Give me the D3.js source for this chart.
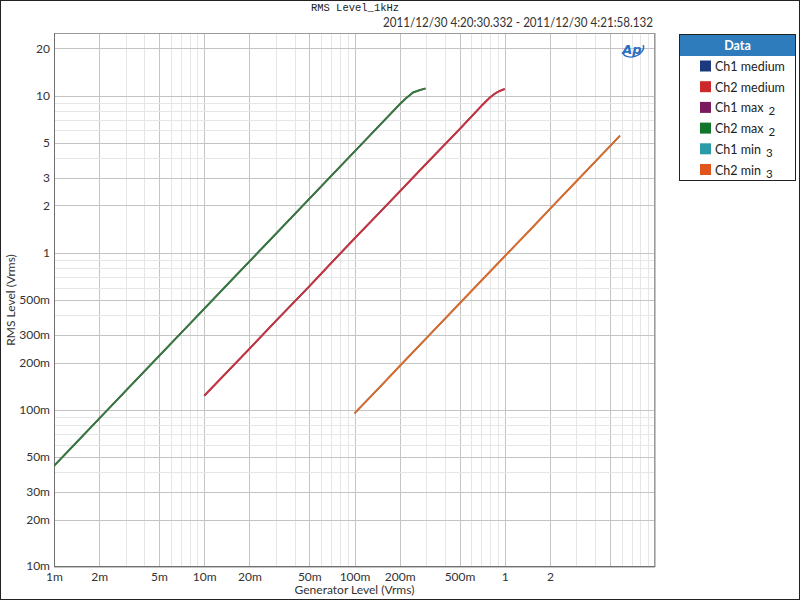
<!DOCTYPE html>
<html><head><meta charset="utf-8">
<script src="https://cdn.jsdelivr.net/npm/d3@7"></script>
<style>body{margin:0;background:#fff}svg{display:block}</style>
</head><body>
<svg id="c" width="800" height="600"></svg>
<script>
// ---- data ----
const titleText = "RMS Level_1kHz";
const subtitleText = "2011/12/30 4:20:30.332 - 2011/12/30 4:21:58.132";
const seriesNames = ["Ch1 medium","Ch2 medium","Ch1 max","Ch2 max","Ch1 min","Ch2 min"];
const seriesSubs  = ["","","2","2","3","3"];
const legendColors = ["#1b3a7e","#cc2a2a","#7a1a5c","#12752a","#2a9aa8","#e0561c"];
const lineColors   = ["#1b3a7e","#c8343e","#7a1a5c","#357a40","#2a9aa8","#dd6a2c"];

const maxGen = [0.001,0.0015,0.002,0.003,0.005,0.007,0.01,0.015,0.02,0.03,0.05,0.07,0.1,0.15,0.2,0.22,0.245,0.27,0.297];
const maxOut = [0.044,0.066,0.088,0.132,0.22,0.308,0.44,0.66,0.88,1.32,2.2,3.08,4.4,6.6,8.8,9.6,10.45,10.8,11.1];
const medGen = [0.01,0.015,0.02,0.03,0.05,0.07,0.1,0.15,0.2,0.3,0.5,0.7,0.8,0.85,0.9,0.95,1.0];
const medOut = [0.123,0.184,0.245,0.368,0.61,0.86,1.23,1.84,2.45,3.68,6.1,8.6,9.75,10.2,10.55,10.8,11.0];
const minGen = [0.1,0.15,0.2,0.3,0.5,0.7,1,1.5,2,3,4,5,5.85];
const minOut = [0.095,0.142,0.19,0.285,0.475,0.665,0.95,1.42,1.9,2.85,3.8,4.75,5.56];

const seriesGen = [medGen, medGen, maxGen, maxGen, minGen, minGen];
const seriesOut = [medOut, medOut, maxOut, maxOut, minOut, minOut];

const xTickVals = [0.001,0.002,0.005,0.01,0.02,0.05,0.1,0.2,0.5,1,2];
const xTickLabels = ["1m","2m","5m","10m","20m","50m","100m","200m","500m","1","2"];
const yTickVals = [0.01,0.02,0.03,0.05,0.1,0.2,0.3,0.5,1,2,3,5,10,20];
const yTickLabels = ["10m","20m","30m","50m","100m","200m","300m","500m","1","2","3","5","10","20"];
const xDomain = [0.001, 10];
const yDomain = [0.01, 25];
const xLabel = "Generator Level (Vrms)";
const yLabel = "RMS Level (Vrms)";

// ---- layout ----
const L = 54, R = 655, T = 33, B = 567;
const svg = d3.select("#c");
const font = "Lato, 'Open Sans', 'DejaVu Sans', sans-serif";

svg.append("rect").attr("x",0.5).attr("y",0.5).attr("width",799).attr("height",599)
  .attr("fill","#fff").attr("stroke","#222");

const x = d3.scaleLog().domain(xDomain).range([L, R]);
const y = d3.scaleLog().domain(yDomain).range([B, T]);

// grid
function logMinor(dom){
  const out=[];
  for(let e=Math.floor(Math.log10(dom[0])); e<=Math.ceil(Math.log10(dom[1])); e++){
    for(let m=1;m<10;m++){const v=m*Math.pow(10,e); if(v>=dom[0]*0.999 && v<=dom[1]*1.001) out.push([v,m]);}
  }
  return out;
}
const g = svg.append("g");
logMinor(xDomain).forEach(([v,m])=>{
  const major = (m===1||m===2||m===5);
  g.append("line").attr("x1",Math.round(x(v))+0.5).attr("x2",Math.round(x(v))+0.5).attr("y1",T).attr("y2",B)
   .attr("stroke", major?"#c4c4c4":"#e6e6e6").attr("stroke-width",1);
});
logMinor(yDomain).forEach(([v,m])=>{
  const major = (m===1||m===2||m===3||m===5);
  g.append("line").attr("y1",Math.round(y(v))+0.5).attr("y2",Math.round(y(v))+0.5).attr("x1",L).attr("x2",R)
   .attr("stroke", major?"#c4c4c4":"#e6e6e6").attr("stroke-width",1);
});

// frame
svg.append("rect").attr("x",L+0.5).attr("y",T+0.5).attr("width",R-L-1).attr("height",B-T-1)
  .attr("fill","none").attr("stroke","#9a9a9a");
svg.append("line").attr("x1",L+0.5).attr("x2",L+0.5).attr("y1",T).attr("y2",B).attr("stroke","#707070");
svg.append("line").attr("x1",L).attr("x2",R).attr("y1",B-0.5).attr("y2",B-0.5).attr("stroke","#707070");

// axes labels via d3 axes
const xAxis = d3.axisBottom(x).tickValues(xTickVals).tickFormat((d,i)=>xTickLabels[i]).tickSize(0).tickPadding(5);
const xa = svg.append("g").attr("transform",`translate(0,${B})`).call(xAxis);
xa.select(".domain").remove();
xa.selectAll("text").attr("font-family",font).attr("font-size",12).attr("fill","#333");

const yAxis = d3.axisLeft(y).tickValues(yTickVals).tickFormat((d,i)=>yTickLabels[i]).tickSize(0).tickPadding(4);
const ya = svg.append("g").attr("transform",`translate(${L},0)`).call(yAxis);
ya.select(".domain").remove();
ya.selectAll("text").attr("font-family",font).attr("font-size",12).attr("fill","#333");
ya.selectAll(".tick").filter((d,i)=>i===0).select("text").attr("dy","0.2em");

svg.append("text").attr("x",(L+R)/2).attr("y",594).attr("text-anchor","middle")
  .attr("font-family",font).attr("font-size",12).attr("fill","#333").text(xLabel);
svg.append("text").attr("transform",`translate(15,${(T+B)/2}) rotate(-90)`).attr("text-anchor","middle")
  .attr("font-family",font).attr("font-size",12).attr("fill","#333").text(yLabel);

// title
svg.append("text").attr("x",355).attr("y",11).attr("text-anchor","middle")
  .attr("font-family","'Liberation Mono','DejaVu Sans Mono',monospace").attr("font-size",10.5).attr("fill","#222").text(titleText);
svg.append("text").attr("x",653).attr("y",27).attr("text-anchor","end")
  .attr("font-family",font).attr("font-size",12.5).attr("fill","#333")
  .attr("textLength",270).attr("lengthAdjust","spacingAndGlyphs").text(subtitleText);

// lines
svg.append("clipPath").attr("id","pc").append("rect").attr("x",L).attr("y",T).attr("width",R-L).attr("height",B-T);
const line = d3.line().x(d=>x(d[0])).y(d=>y(d[1]));
const lg = svg.append("g").attr("clip-path","url(#pc)");
seriesNames.forEach((n,i)=>{
  const pts = seriesGen[i].map((gv,j)=>[gv, seriesOut[i][j]]);
  lg.append("path").attr("d",line(pts)).attr("fill","none")
    .attr("stroke",lineColors[i]).attr("stroke-width",i%2===0?1.6:2).attr("stroke-linejoin","round");
});

// Ap logo
const ap = svg.append("g").attr("transform","translate(632,49)");
ap.append("ellipse").attr("cx",1).attr("cy",0).attr("rx",11).attr("ry",8).attr("fill","none")
  .attr("stroke","#2a6fc0").attr("stroke-width",1.4).attr("stroke-dasharray","30 40").attr("transform","rotate(-20)");
ap.append("text").attr("x",0).attr("y",5).attr("text-anchor","middle").attr("font-family","'DejaVu Sans',sans-serif")
  .attr("font-style","italic").attr("font-weight","bold").attr("font-size",13).attr("fill","#2a6fc0").text("Ap");

// legend
const lx = 679.5, ly = 34.5, lw = 116, lh = 146;
svg.append("rect").attr("x",lx).attr("y",ly).attr("width",lw).attr("height",lh).attr("fill","#fff").attr("stroke","#222");
svg.append("rect").attr("x",lx+0.5).attr("y",ly+0.5).attr("width",lw-1).attr("height",21).attr("fill","#2f7cbc");
svg.append("text").attr("x",lx+lw/2).attr("y",ly+15).attr("text-anchor","middle").attr("font-family",font)
  .attr("font-weight","bold").attr("font-size",12.5).attr("fill","#fff").text("Data");
seriesNames.forEach((n,i)=>{
  const cy = 66.5 + i*20.7;
  svg.append("rect").attr("x",700).attr("y",cy-6).attr("width",11).attr("height",11).attr("fill",legendColors[i]);
  const t = svg.append("text").attr("x",715).attr("y",cy+4.5).attr("font-family",font).attr("font-size",12.5).attr("fill","#222").text(n);
  if(seriesSubs[i]) t.append("tspan").attr("dx",5).attr("dy",3).attr("font-size",11.5).text(seriesSubs[i]);
});
</script>
</body></html>
